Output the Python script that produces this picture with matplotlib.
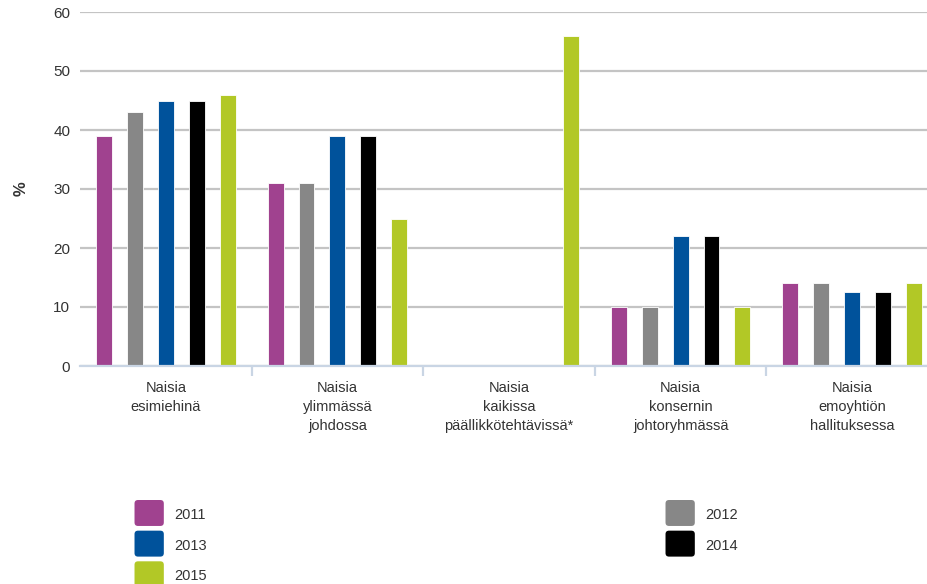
import matplotlib
matplotlib.use("Agg")
import matplotlib.pyplot as plt
import numpy as np
from matplotlib.patches import FancyBboxPatch
from matplotlib.legend_handler import HandlerPatch

plt.rcParams['font.family'] = ['Liberation Sans', 'DejaVu Sans']

categories = [
    "Naisia\nesimiehinä",
    "Naisia\nylimmässä\njohdossa",
    "Naisia\nkaikissa\npäällikkötehtävissä*",
    "Naisia\nkonsernin\njohtoryhmässä",
    "Naisia\nemoyhtiön\nhallituksessa",
]
years = ["2011", "2012", "2013", "2014", "2015"]
v2011 = [39, 31, 0, 10, 14]
v2012 = [43, 31, 0, 10, 14]
v2013 = [45, 39, 0, 22, 12.6]
v2014 = [45, 39, 0, 22, 12.6]
v2015 = [46, 25, 56, 10, 14]
series = [v2011, v2012, v2013, v2014, v2015]
colors = ["#a0428f", "#878787", "#00529b", "#000000", "#b2c826"]
yticks = [0, 10, 20, 30, 40, 50, 60]

text_col = "#333333"
fig = plt.figure(figsize=(9.28, 5.84), dpi=100)
ax = fig.add_axes([80 / 928, 1 - 366 / 584, 858 / 928, 354 / 584])

x = np.arange(len(categories))
step = 0.18
width = 0.093
bars = []
for i, (vals, c) in enumerate(zip(series, colors)):
    b = ax.bar(x + (i - 2) * step, vals, width=width, color=c,
               edgecolor="white", linewidth=0.6, zorder=3, label=years[i])
    bars.append(b)

ax.set_xlim(-0.5, 4.5)
ax.set_ylim(0, 60)
ax.set_yticks(yticks)
ax.yaxis.grid(True, color="#c4c4c4", linewidth=1.6, zorder=0)
ax.set_axisbelow(True)
for s in ["top", "right", "left"]:
    ax.spines[s].set_visible(False)
ax.spines["bottom"].set_color("#c9d5e4")
ax.spines["bottom"].set_linewidth(1.6)
ax.spines["bottom"].set_zorder(4)

ax.set_xticks(x)
ax.set_xticklabels(categories, fontsize=10.5, color=text_col, linespacing=1.45, va="top")
ax.set_xticks(np.arange(0.5, 4.0, 1.0), minor=True)
ax.tick_params(axis="x", which="major", length=0, pad=11)
ax.tick_params(axis="x", which="minor", length=7, width=1.6, color="#c9d5e4")
ax.tick_params(axis="y", length=0, pad=7, labelsize=11, labelcolor=text_col)
ax.set_ylabel("%", fontsize=12, fontweight="bold", color=text_col, labelpad=18)


class RoundHandler(HandlerPatch):
    def create_artists(self, legend, orig_handle, xdescent, ydescent,
                       width, height, fontsize, trans):
        full_h = height + ydescent
        p = FancyBboxPatch((-xdescent + 1, -ydescent - 1), width - 2, full_h,
                           boxstyle="round,pad=0,rounding_size=2.5",
                           facecolor=orig_handle.patches[0].get_facecolor(),
                           edgecolor="none", transform=trans)
        return [p]


hm = {b: RoundHandler() for b in bars}
leg_kw = dict(frameon=False, fontsize=10.5, handlelength=2.2, handleheight=1.78,
              handletextpad=0.6, labelspacing=0.7, loc="upper left",
              handler_map=hm, labelcolor=text_col)
l1 = fig.legend([bars[0], bars[2], bars[4]], ["2011", "2013", "2015"],
                bbox_to_anchor=(120 / 928, 1 - 491 / 584), **leg_kw)
l2 = fig.legend([bars[1], bars[3]], ["2012", "2014"],
                bbox_to_anchor=(651 / 928, 1 - 491 / 584), **leg_kw)

fig.savefig("out.png", dpi=100)
